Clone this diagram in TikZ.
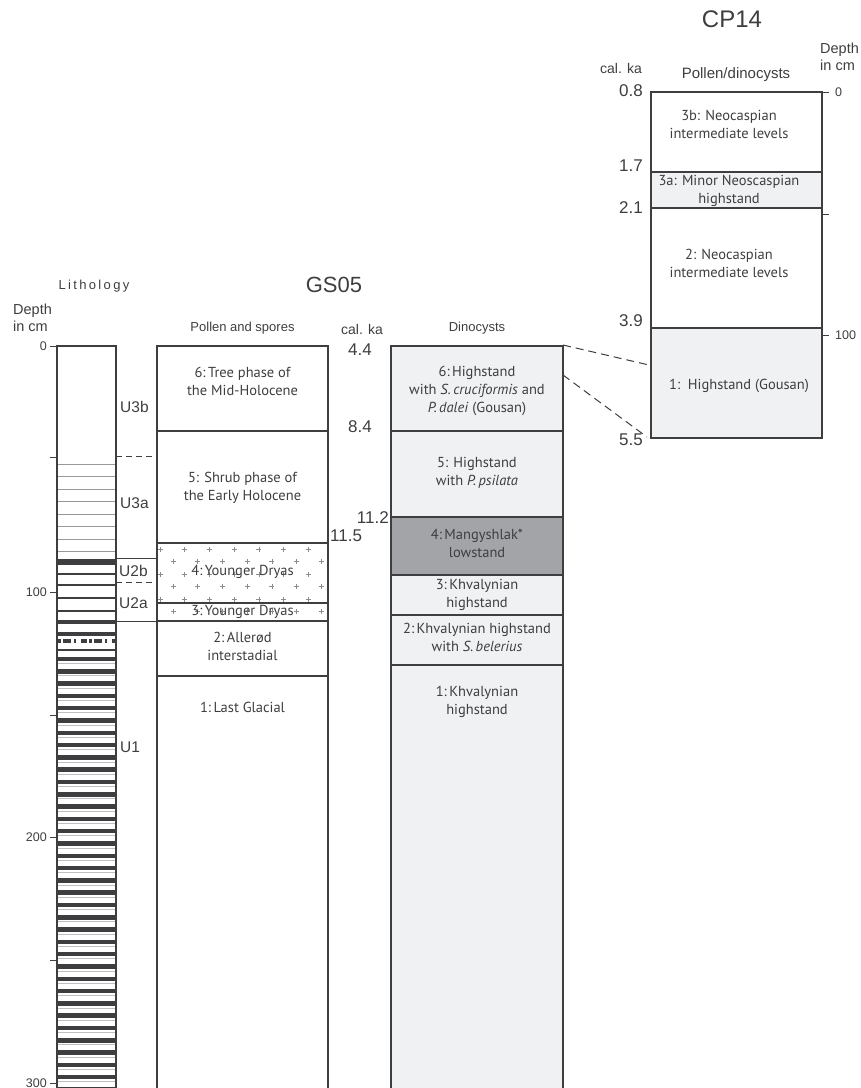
\documentclass[tikz,border=0pt]{standalone}
\usepackage{fontspec}
\setmainfont{Liberation Sans}
\newfontfamily\zonefont{PT Sans}
\usetikzlibrary{positioning}
\definecolor{ink}{RGB}{62,62,64}
\definecolor{paleGrey}{RGB}{240,241,243}
\definecolor{midGrey}{RGB}{163,164,167}
\tikzset{
    %Define style for column outlines
    col/.style={draw=ink, line width=1.3pt},
    %Define style for zone texts
    zone/.style={
           align=center,
           inner sep=0pt,
           text=ink,
           font=\zonefont\fontsize{14.5}{18}\selectfont},
    %Define styles for other texts
    head/.style={inner sep=0pt, text=ink, font=\fontsize{13}{16}\selectfont},
    age/.style={inner sep=0pt, text=ink, font=\fontsize{17}{20}\selectfont},
    big/.style={inner sep=0pt, text=ink, font=\fontsize{22}{24}\selectfont},
    small/.style={inner sep=0pt, text=ink, font=\fontsize{12.5}{14}\selectfont},
    unit/.style={inner sep=0pt, text=ink, anchor=west, font=\fontsize{15.5}{17}\selectfont},
    % Define line styles
    sep/.style={draw=ink, line width=1.3pt},
    tick/.style={draw=ink, line width=1pt},
    unitdash/.style={draw=ink, line width=1pt, dash pattern=on 6pt off 4pt},
    link/.style={draw=ink, line width=1pt, dash pattern=on 8pt off 5pt},
    band/.style={draw=ink, line width=4.5pt},
    fine/.style={draw=black!40, line width=0.8pt},
    plusmark/.style={draw=black!45, line width=0.5pt}
}
\begin{document}
\begin{tikzpicture}[x=1pt,y=-1pt]
\useasboundingbox (0,0) rectangle (861,1088);

% Lithology column
\foreach \y in {464,476.5,...,552} \draw[fine] (57,\y) -- (116,\y);
\draw[band, line width=6pt] (57,562) -- (116,562);
\foreach \y in {574,585,598,611} \draw[band, line width=2.5pt] (57,\y) -- (116,\y);
\foreach \y in {622,634} \draw[band] (57,\y) -- (116,\y);
\draw[band, line width=2.5pt] (57,650) -- (116,650);
\foreach \k in {0,...,35} {
  \draw[band] (57,659+12.3*\k) -- (116,659+12.3*\k);
  \draw[fine, black!25] (57,663.5+12.3*\k) -- (116,663.5+12.3*\k);
}
\draw[ink, line width=4pt, dash pattern=on 3pt off 2pt on 8pt off 3pt on 2pt off 5pt on 6pt off 2pt] (58,641) -- (115,641);
\draw[col] (57,1092) |- (116,346) -- (116,1092);
\foreach \y/\d in {346/0,592/100,837/200,1083/300}{
  \draw[tick] (50,\y) -- (57,\y);
  \node[small, anchor=east] (d\d) at (47,\y) {\d};
}
\foreach \y in {457,715,960} \draw[tick] (50,\y) -- (57,\y);

% Units
\node[unit] (U3b) at (120,407) {U3b};
\node[unit] (U3a) at (120,503) {U3a};
\node[unit] (U2b) at (119,571) {U2b};
\node[unit] (U2a) at (119,603) {U2a};
\node[unit] (U1) at (120,747) {U1};
\draw[unitdash] (116,456) -- (157,456);
\draw[sep, line width=1pt] (116,558) -- (157,558);
\draw[unitdash] (116,582) -- (157,582);
\draw[sep, line width=1pt] (116,621) -- (157,621);

% Pollen column
\foreach \y [count=\i] in {549,561.5,574,586.5,599,611.5}{
  \pgfmathsetmacro\off{mod(\i,2)==1 ? 160 : 173}
  \foreach \k in {0,...,6}
    \draw[plusmark] (\off+24.7*\k-2.5,\y) -- ++(5,0) (\off+24.7*\k,\y-2.5) -- ++(0,5);
}
\foreach \y in {431,543,603,621,676} \draw[sep] (157,\y) -- (328,\y);
\draw[col] (157,1092) |- (328,346) -- (328,1092);
\node[zone] (p6) at (242.5,381) {6:\,Tree phase of\\the Mid-Holocene};
\node[zone] (p5) at (242.5,488) {5: Shrub phase of\\the Early Holocene};
\node[zone] (p4) at (242.5,572) {4:\,Younger Dryas};
\node[zone] (p3) at (242.5,612) {3:\,Younger Dryas};
\node[zone] (p2) at (242.5,646) {2:\,Allerød\\interstadial};
\node[zone] (p1) at (242.5,707) {1:\,Last Glacial};

% Dinocyst column
\fill[paleGrey] (391,346) rectangle (563,1092);
\fill[midGrey] (391,517) rectangle (563,575);
\foreach \y in {431,517,575,615,665} \draw[sep] (391,\y) -- (563,\y);
\draw[col] (391,1092) |- (563,346) -- (563,1092);
\node[zone] (n6) at (477,391) {6:\,Highstand\\with \textit{S.\,cruciformis} and\\\textit{P.\,dalei} (Gousan)};
\node[zone] (n5) at (477,473) {5: Highstand\\with \textit{P.\,psilata}};
\node[zone] (n4) at (477,543) {4:\,Mangyshlak*\\lowstand};
\node[zone] (n3) at (477,595) {3:\,Khvalynian\\highstand};
\node[zone] (n2) at (477,637) {2:\,Khvalynian highstand\\with \textit{S.\,belerius}};
\node[zone] (n1) at (477,702) {1:\,Khvalynian\\highstand};

% GS05 headings and ages
\node[big] (GS) at (334,285) {GS05};
\node[head] (lith) at (94,286) {\addfontfeatures{LetterSpace=18}Lithology};
\node[head, anchor=west, align=left, font=\fontsize{14.5}{17}\selectfont] (dep) at (13,318) {Depth\\in cm};
\node[head] (pol) at (242.5,328) {Pollen and spores};
\node[head] (dino) at (477,328) {Dinocysts};
\node[head, font=\fontsize{14}{16}\selectfont] (calA) at (362,329) {cal. ka};
\node[age] (a44) at (360,350) {4.4};
\node[age] (a84) at (360,427) {8.4};
\node[age, anchor=east] (a112) at (389,518) {11.2};
\node[age, anchor=west] (a115) at (330,536) {11.5};

% CP14 column
\fill[paleGrey] (651,172) rectangle (822,208);
\fill[paleGrey] (651,328) rectangle (822,438);
\foreach \y in {172,208,328} \draw[sep] (651,\y) -- (822,\y);
\draw[col] (651,92) rectangle (822,438);
\node[zone] (c3b) at (729,124) {3b: Neocaspian\\intermediate levels};
\node[zone] (c3a) at (729,191) {3a: Minor Neoscaspian\\highstand};
\node[zone] (c2) at (729,263) {2: Neocaspian\\intermediate levels};
\node[zone] (c1) at (739,386) {1:\ \ Highstand (Gousan)};
\node[big, font=\fontsize{24}{26}\selectfont] (CP) at (732,19) {CP14};
\node[head, font=\fontsize{14}{16}\selectfont] (calB) at (621,68) {cal. ka};
\node[head, font=\fontsize{15}{17}\selectfont] (pd) at (736,75) {Pollen/dinocysts};
\node[head, anchor=west, align=left, font=\fontsize{14.5}{17}\selectfont] (depB) at (820,57) {Depth\\in cm};
\node[age, anchor=east] (b08) at (643,91) {0.8};
\node[age, anchor=east] (b17) at (643,166) {1.7};
\node[age, anchor=east] (b21) at (643,208) {2.1};
\node[age, anchor=east] (b39) at (643,321) {3.9};
\node[age, anchor=east] (b55) at (643,440) {5.5};
\foreach \y/\d in {92/0,214/50,335/100} \draw[tick] (822,\y) -- (829,\y);
\node[small, anchor=west] (r0) at (835,92) {0};
\node[small, anchor=west] (r100) at (835,335) {100};

% Correlation lines
\coordinate (dTop) at (563,345);
\coordinate (dMid) at (563,375);
\coordinate (cTop) at (649,365);
\coordinate (cBot) at (647,437);
\draw[link] (dTop) -- (cTop);
\draw[link] (dMid) -- (cBot);
\end{tikzpicture}
\end{document}
